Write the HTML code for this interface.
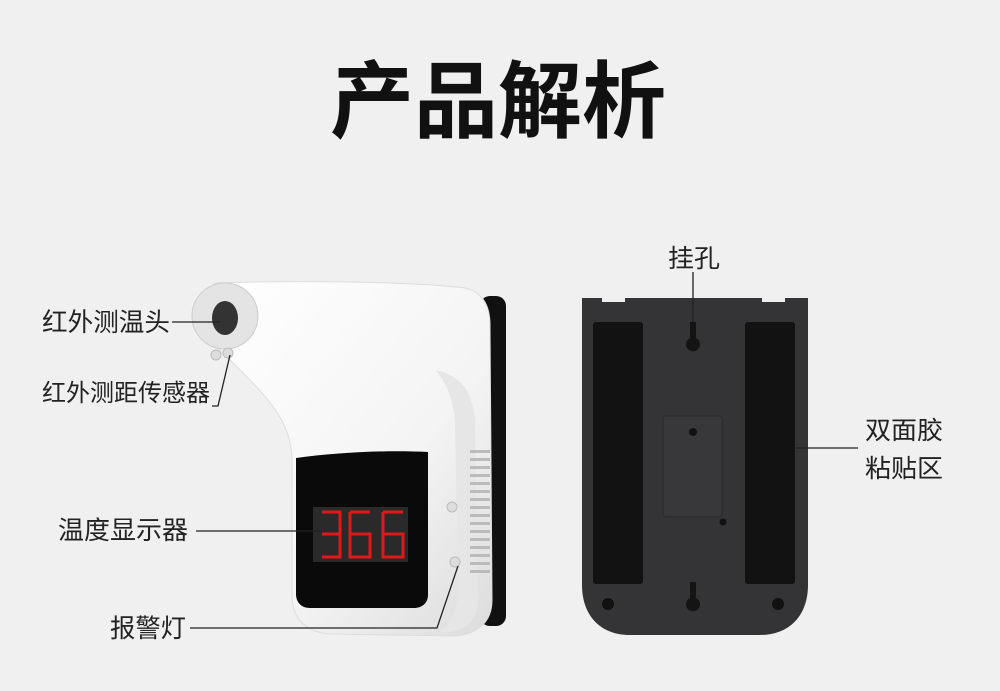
<!DOCTYPE html>
<html><head><meta charset="utf-8"><style>
html,body{margin:0;padding:0;background:#f0f0f0;}
svg{display:block}
text{font-family:"Liberation Sans","Noto Sans CJK SC",sans-serif;fill:#222}
</style></head><body>
<svg width="1000" height="691" viewBox="0 0 1000 691" xmlns="http://www.w3.org/2000/svg">
<defs>
<linearGradient id="bd" x1="0" y1="0" x2="1" y2="1">
<stop offset="0" stop-color="#ffffff"/><stop offset="0.6" stop-color="#f4f4f4"/><stop offset="1" stop-color="#dcdcdc"/>
</linearGradient>
</defs>
<rect width="1000" height="691" fill="#f0f0f0"/>
<text x="498" y="131" text-anchor="middle" font-size="84" font-weight="bold" style="fill:#111">产品解析</text>

<!-- left device -->
<rect x="480" y="296" width="26" height="330" rx="10" fill="#111"/>
<path d="M215,283 C300,280 420,282 465,288 C482,292 490,305 490,325 L492,600 C492,622 478,634 455,636 L330,634 C305,632 292,618 292,595 L292,460 C292,420 265,395 230,360 C205,340 200,295 215,283 Z" fill="url(#bd)" stroke="#ddd"/>
<path d="M435,370 C460,375 472,390 475,420 L478,600 C478,620 466,630 450,632 L440,632 C455,620 460,600 458,580 L455,420 C452,395 445,380 435,370 Z" fill="#e6e6e6"/>
<g fill="#bbb">
<rect x="470" y="450" width="20" height="3"/><rect x="470" y="458" width="20" height="3"/><rect x="470" y="466" width="20" height="3"/><rect x="470" y="474" width="20" height="3"/><rect x="470" y="482" width="20" height="3"/><rect x="470" y="490" width="20" height="3"/><rect x="470" y="498" width="20" height="3"/><rect x="470" y="506" width="20" height="3"/><rect x="470" y="514" width="20" height="3"/><rect x="470" y="522" width="20" height="3"/><rect x="470" y="530" width="20" height="3"/><rect x="470" y="538" width="20" height="3"/><rect x="470" y="546" width="20" height="3"/><rect x="470" y="554" width="20" height="3"/><rect x="470" y="562" width="20" height="3"/><rect x="470" y="570" width="20" height="3"/>
</g>
<path d="M296,458 C340,452 390,450 428,452 L428,595 C428,603 422,608 414,608 L310,608 C301,608 296,602 296,594 Z" fill="#0a0a0a"/>
<rect x="313" y="507" width="95" height="55" fill="#2a2a2a"/>
<g fill="none" stroke="#e01818" stroke-width="3">
<path d="M322,512 H340 V557 H322 M322,534 H340"/>
<path d="M350,512 V557 H370 V534 H350 M350,512 H370"/>
<path d="M383,512 V557 H403 V534 H383 M383,512 H403"/>
</g>
<circle cx="452" cy="507" r="5" fill="#ddd" stroke="#bbb"/>
<circle cx="455" cy="562" r="5" fill="#ddd" stroke="#bbb"/>
<circle cx="225" cy="316" r="33" fill="#e4e4e4" stroke="#ccc"/>
<ellipse cx="225" cy="318" rx="13" ry="17" fill="#333"/>
<circle cx="216" cy="355" r="5" fill="#ddd" stroke="#bbb"/>
<circle cx="228" cy="353" r="5" fill="#ddd" stroke="#bbb"/>

<g stroke="#222" stroke-width="1.3" fill="none">
<line x1="172" y1="322" x2="220" y2="322"/>
<polyline points="212,406 218,406 230,355"/>
<line x1="196" y1="531" x2="322" y2="531"/>
<polyline points="190,628 437,628 458,566"/>
</g>
<text x="42" y="331" font-size="25.5" textLength="128" lengthAdjust="spacingAndGlyphs">红外测温头</text>
<text x="42" y="401" font-size="24" textLength="168" lengthAdjust="spacingAndGlyphs">红外测距传感器</text>
<text x="58" y="539" font-size="25.5" textLength="130" lengthAdjust="spacingAndGlyphs">温度显示器</text>
<text x="110" y="637" font-size="25.5" textLength="76" lengthAdjust="spacingAndGlyphs">报警灯</text>

<!-- back plate -->
<path d="M582,298 L602,298 L602,302 L625,302 L625,298 L762,298 L762,302 L785,302 L785,298 L808,298 L808,585 C808,615 790,635 760,635 L630,635 C600,635 582,615 582,585 Z" fill="#343437"/>
<rect x="593" y="322" width="50" height="262" rx="3" fill="#121212"/>
<rect x="745" y="322" width="50" height="262" rx="3" fill="#121212"/>
<rect x="663" y="416" width="59" height="101" rx="3" fill="#38383b" stroke="#2a2a2c"/>
<circle cx="693" cy="432" r="4" fill="#111"/>
<circle cx="723" cy="522" r="3.5" fill="#111"/>
<path d="M690,322 L696,322 L696,338 A7,7 0 1 1 690,338 Z" fill="#141414"/>
<path d="M690,582 L696,582 L696,598 A7,7 0 1 1 690,598 Z" fill="#141414"/>
<circle cx="608" cy="604" r="6" fill="#111"/>
<circle cx="778" cy="604" r="6" fill="#111"/>
<g stroke="#222" stroke-width="1.3">
<line x1="693" y1="272" x2="693" y2="322"/>
<line x1="796" y1="448" x2="858" y2="448"/>
</g>
<text x="668" y="267" font-size="25" textLength="52" lengthAdjust="spacingAndGlyphs">挂孔</text>
<text x="865" y="439" font-size="25" textLength="78" lengthAdjust="spacingAndGlyphs">双面胶</text>
<text x="865" y="477" font-size="25" textLength="78" lengthAdjust="spacingAndGlyphs">粘贴区</text>
</svg>
</body></html>
